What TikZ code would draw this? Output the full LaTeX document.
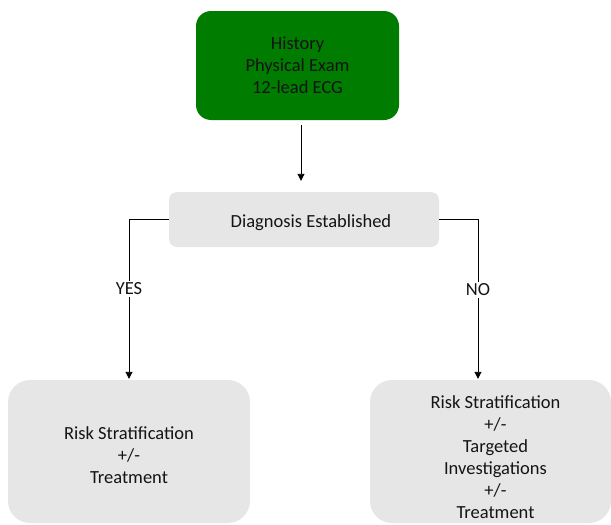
\documentclass[tikz,border=0pt]{standalone}
\usepackage{fontspec}
\setmainfont{Carlito}
\usetikzlibrary{arrows.meta}
\definecolor{boxgreen}{RGB}{0,124,0}
\definecolor{boxgray}{RGB}{230,230,230}
\definecolor{txt}{RGB}{20,20,20}
\newcommand{\dn}[1]{\rule{0pt}{#1}}
\begin{document}
\begin{tikzpicture}[x=1pt,y=-1pt,
  every node/.style={font=\fontsize{18.5}{22}\selectfont, text=txt, align=center},
  greenbox/.style={fill=boxgreen, rounded corners=15pt, minimum width=203pt, minimum height=109pt},
  graybox/.style={fill=boxgray, rounded corners=8pt},
  bigbox/.style={fill=boxgray, rounded corners=22pt, minimum width=242pt, minimum height=143pt},
  arr/.style={draw=black, line width=0.9pt, -{Triangle[width=7pt,length=7pt]}},
  lbl/.style={fill=white, inner sep=2pt}
]
\useasboundingbox (0,0) rectangle (611,525);
\node[greenbox] (hist) at (297.5,65.5) {History\\Physical Exam\\12-lead ECG};
\node[graybox, minimum width=270pt, minimum height=55pt] (diag) at (304,219.5) {\dn{19pt}\hspace*{14pt}Diagnosis Established};
\node[bigbox] (lbox) at (129,451.5) {\dn{20pt}Risk Stratification\\+/-\\Treatment};
\node[bigbox, minimum width=241pt] (rbox) at (490.5,451.5) {\dn{24pt}\hspace*{10pt}Risk Stratification\\\hspace*{10pt}+/-\\\hspace*{10pt}Targeted\\\hspace*{10pt}Investigations\\\hspace*{10pt}+/-\\\hspace*{10pt}Treatment};
\coordinate (top) at ([xshift=3.5pt,yshift=-5pt]hist.south);
\draw[arr, shorten >=11pt] (top) -- (top |- diag.north);
\draw[arr, shorten >=1pt] (diag.west) -| (lbox.north) node[pos=0.716, lbl] {YES};
\coordinate (rin) at ([xshift=-12.5pt]rbox.north);
\draw[arr, shorten >=1pt] (diag.east) -| (rin) node[pos=0.72, lbl] {NO};
\end{tikzpicture}
\end{document}
